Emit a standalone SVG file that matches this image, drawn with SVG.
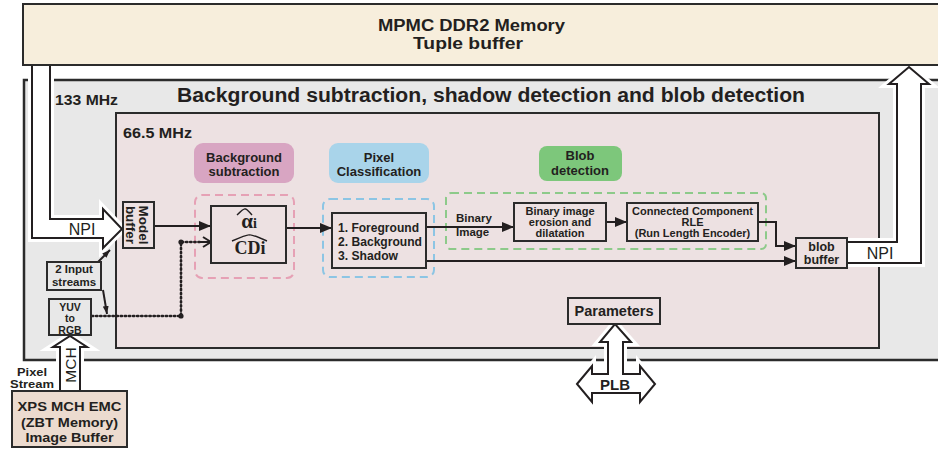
<svg xmlns="http://www.w3.org/2000/svg" width="938" height="451" viewBox="0 0 938 451">
  <style>
    text { font-family: "Liberation Sans", Arial, sans-serif; fill: #231f20; }
    .b { font-weight: bold; }
    .c { text-anchor: middle; }
    .serif { font-family: "Liberation Serif", "Times New Roman", serif; font-weight: bold; }
    .box { fill: #ede1e2; stroke: #2b2b2b; stroke-width: 2; }
    .gbox { fill: #e8e8e8; stroke: #2b2b2b; stroke-width: 2; }
    .wire { fill: none; stroke: #231f20; stroke-width: 2; }
    .dot { fill: none; stroke: #231f20; stroke-width: 2.6; stroke-dasharray: 1.3 2.8; stroke-linecap: round; }
    .halo { fill: #ffffff; stroke: #ffffff; stroke-width: 8; stroke-linejoin: miter; }
    .bigarrow { fill: #ffffff; stroke: #231f20; stroke-width: 2; stroke-linejoin: miter; }
    .dash { fill: none; stroke-width: 2; stroke-dasharray: 8 5; }
  </style>
  <defs>
    <marker id="head" viewBox="0 0 12 10" refX="12" refY="5" markerWidth="12" markerHeight="10" markerUnits="userSpaceOnUse" orient="auto">
      <path d="M0,0 L12,5 L0,10 Z" fill="#231f20"/>
    </marker>
    <marker id="small" viewBox="0 0 8 6" refX="8" refY="3" markerWidth="8" markerHeight="6" markerUnits="userSpaceOnUse" orient="auto">
      <path d="M0,0 L8,3 L0,6 Z" fill="#231f20"/>
    </marker>
    <marker id="chev" viewBox="0 0 10 12" refX="9" refY="6" markerWidth="10" markerHeight="12" markerUnits="userSpaceOnUse" orient="auto">
      <path d="M1,1 L9,6 L1,11" fill="none" stroke="#231f20" stroke-width="2"/>
    </marker>
  </defs>

  <!-- 133 MHz domain -->
  <g id="outer-domain">
    <rect x="24" y="80" width="930" height="280" fill="#e8e8e8" stroke="#2b2b2b" stroke-width="2.5"/>
    <text class="b" x="55" y="105" font-size="14" textLength="63" lengthAdjust="spacingAndGlyphs">133 MHz</text>
    <text class="b" x="177" y="102" font-size="20" textLength="628" lengthAdjust="spacingAndGlyphs">Background subtraction, shadow detection and blob detection</text>
  </g>

  <!-- 66.5 MHz domain -->
  <g id="inner-domain">
    <rect x="116" y="113" width="763" height="235" fill="#ede1e2" stroke="#2b2b2b" stroke-width="2"/>
    <text class="b" x="123" y="138" font-size="14.5" textLength="69" lengthAdjust="spacingAndGlyphs">66.5 MHz</text>
  </g>

  <!-- stage labels and dashed groupings -->
  <g id="stage-background">
    <rect x="194" y="143" width="100" height="40" rx="9" fill="#d8a5c2"/>
    <text class="b c" x="244" y="162" font-size="13">Background</text>
    <text class="b c" x="244" y="176" font-size="13">subtraction</text>
    <rect class="dash" x="195" y="195" width="99" height="83" rx="7" stroke="#e6a1b5"/>
  </g>
  <g id="stage-pixel">
    <rect x="329" y="143" width="100" height="40" rx="9" fill="#a9d4ea"/>
    <text class="b c" x="379" y="162" font-size="13">Pixel</text>
    <text class="b c" x="379" y="176" font-size="13">Classification</text>
    <rect class="dash" x="323" y="199" width="111" height="78" rx="7" stroke="#8cc5e4"/>
  </g>
  <g id="stage-blob">
    <rect x="539" y="146" width="83" height="35" rx="8" fill="#7dc77b"/>
    <text class="b c" x="580" y="160" font-size="13">Blob</text>
    <text class="b c" x="580" y="175" font-size="13">detection</text>
    <rect class="dash" x="446" y="193" width="320" height="56" rx="5" stroke="#8dca8a"/>
  </g>

  <!-- wide bus arrows -->
  <g id="buses">
    <path class="halo" d="M32,65 V238 H103 V248 L122,229 L103,209 V219 H50 V65"/>
    <path class="halo" d="M847,242 H897 V84 H889 L909,67 L929,84 H921 V263 H847"/>
    <path class="halo" d="M577,384 L592,366 V374 H608 V342 H600 L615,324 L631,342 H623 V374 H640 V366 L655,384 L640,402 V393 H592 V402 Z"/>
    <path class="halo" d="M60,391 V347 H53 L70,336 L87,347 H80 V391"/>

    <path class="bigarrow" d="M32,65 V238 H103 V248 L122,229 L103,209 V219 H50 V65"/>
    <path class="bigarrow" d="M847,242 H897 V84 H889 L909,67 L929,84 H921 V263 H847"/>
    <path class="bigarrow" d="M577,384 L592,366 V374 H608 V342 H600 L615,324 L631,342 H623 V374 H640 V366 L655,384 L640,402 V393 H592 V402 Z"/>
    <path class="bigarrow" d="M60,391 V347 H53 L70,336 L87,347 H80 V391"/>

    <text class="c" x="82" y="235" font-size="16">NPI</text>
    <text class="c" x="880" y="259" font-size="16">NPI</text>
    <text class="b c" x="615" y="390" font-size="15">PLB</text>
    <text class="c" transform="translate(76,365) rotate(-90)" font-size="15.5">MCH</text>
  </g>

  <!-- DDR2 memory -->
  <g id="mpmc">
    <rect x="23" y="4" width="930" height="61" fill="#f7eedc" stroke="#2b2b2b" stroke-width="2"/>
    <text class="b" x="378" y="30.5" font-size="16" textLength="187" lengthAdjust="spacingAndGlyphs">MPMC DDR2 Memory</text>
    <text class="b" x="413" y="49" font-size="16" textLength="110" lengthAdjust="spacingAndGlyphs">Tuple buffer</text>
  </g>

  <!-- connectors -->
  <g id="connectors">
    <path class="wire" d="M154,226 H211" marker-end="url(#head)"/>
    <path class="wire" d="M286,228 H332" marker-end="url(#head)"/>
    <path class="wire" d="M426,227 H514" marker-end="url(#head)"/>
    <path class="wire" d="M606,222 H627" marker-end="url(#head)"/>
    <path class="wire" d="M758,222 H776 V246 H796" marker-end="url(#head)"/>
    <path class="wire" d="M426,261 H796" marker-end="url(#head)"/>
    <path class="dot" d="M92,316 H181 V242 H202"/>
    <path class="wire" d="M200,242 H211" stroke-width="0" marker-end="url(#chev)"/>
    <circle cx="181" cy="316" r="2.6" fill="#231f20"/>
    <circle cx="181" cy="242" r="2.6" fill="#231f20"/>
    <path class="wire" d="M98,262 L110,250" stroke-width="1.3" marker-end="url(#small)"/>
    <path class="wire" d="M103,290 L107,314" stroke-width="1.3" marker-end="url(#small)"/>
  </g>

  <!-- nodes -->
  <g id="model-buffer">
    <rect class="box" x="123" y="202" width="31" height="46"/>
    <text class="b c" transform="translate(139,225) rotate(90)" font-size="13.5">Model</text>
    <text class="b c" transform="translate(126,225) rotate(90)" font-size="13.5">buffer</text>
  </g>

  <g id="estimator">
    <rect class="box" x="211" y="206" width="75" height="57"/>
    <text class="serif c" x="249" y="228"><tspan font-size="21">α</tspan><tspan font-size="14">i</tspan></text>
    <text class="serif c" x="250" y="254" font-size="18">CDi</text>
    <path d="M237,215 Q244,208 245,209 Q246,208 252,215" fill="none" stroke="#231f20" stroke-width="1.4"/>
    <path d="M232,241 Q248,234 249.5,235 Q251,234 267,241" fill="none" stroke="#231f20" stroke-width="1.4"/>
  </g>

  <g id="classifier">
    <rect class="box" x="332" y="213" width="94" height="55"/>
    <text class="b" x="338" y="232" font-size="12.5" textLength="81" lengthAdjust="spacingAndGlyphs">1. Foreground</text>
    <text class="b" x="338" y="246" font-size="12.5" textLength="84" lengthAdjust="spacingAndGlyphs">2. Background</text>
    <text class="b" x="338" y="260" font-size="12.5" textLength="60" lengthAdjust="spacingAndGlyphs">3. Shadow</text>
  </g>

  <g id="binary-label">
    <text class="b" x="456" y="222" font-size="11.5">Binary</text>
    <text class="b" x="456" y="236" font-size="11.5">Image</text>
  </g>

  <g id="morphology">
    <rect class="box" x="514" y="203" width="92" height="38"/>
    <text class="b c" x="560" y="215" font-size="11">Binary image</text>
    <text class="b c" x="560" y="226" font-size="11">erosion and</text>
    <text class="b c" x="560" y="237" font-size="11">dilatation</text>
  </g>

  <g id="ccl">
    <rect class="box" x="627" y="203" width="131" height="38"/>
    <text class="b c" x="692.5" y="215" font-size="11">Connected Component</text>
    <text class="b c" x="692.5" y="226" font-size="11">RLE</text>
    <text class="b c" x="692.5" y="237" font-size="11">(Run Length Encoder)</text>
  </g>

  <g id="blob-buffer">
    <rect class="box" x="796" y="238" width="51" height="30"/>
    <text class="b c" x="821.5" y="251" font-size="12.5">blob</text>
    <text class="b c" x="821.5" y="264" font-size="12.5">buffer</text>
  </g>

  <g id="parameters">
    <rect class="box" x="568" y="298" width="92" height="26"/>
    <text class="b c" x="614" y="316" font-size="14.5">Parameters</text>
  </g>

  <g id="input-streams">
    <rect class="gbox" x="47" y="262" width="54" height="28"/>
    <text class="b c" x="74" y="273" font-size="11.5">2 Input</text>
    <text class="b c" x="74" y="286" font-size="11.5">streams</text>
  </g>

  <g id="yuv-rgb">
    <rect class="gbox" x="49" y="299" width="42" height="36"/>
    <text class="b c" x="70" y="310.5" font-size="10.5">YUV</text>
    <text class="b c" x="70" y="322" font-size="10.5">to</text>
    <text class="b c" x="70" y="333.5" font-size="10.5">RGB</text>
  </g>

  <g id="pixel-stream">
    <text class="b c" x="32" y="376" font-size="11.5" textLength="30" lengthAdjust="spacingAndGlyphs">Pixel</text>
    <text class="b c" x="32" y="388" font-size="11.5" textLength="44" lengthAdjust="spacingAndGlyphs">Stream</text>
  </g>

  <g id="zbt-memory">
    <rect x="12" y="391" width="115" height="56" fill="#ecdbcf" stroke="#2b2b2b" stroke-width="2"/>
    <text class="b c" x="69.5" y="411" font-size="13.5" textLength="104" lengthAdjust="spacingAndGlyphs">XPS MCH EMC</text>
    <text class="b c" x="69.5" y="426.5" font-size="13.5" textLength="97" lengthAdjust="spacingAndGlyphs">(ZBT Memory)</text>
    <text class="b c" x="69.5" y="442" font-size="13.5" textLength="88" lengthAdjust="spacingAndGlyphs">Image Buffer</text>
  </g>
</svg>
